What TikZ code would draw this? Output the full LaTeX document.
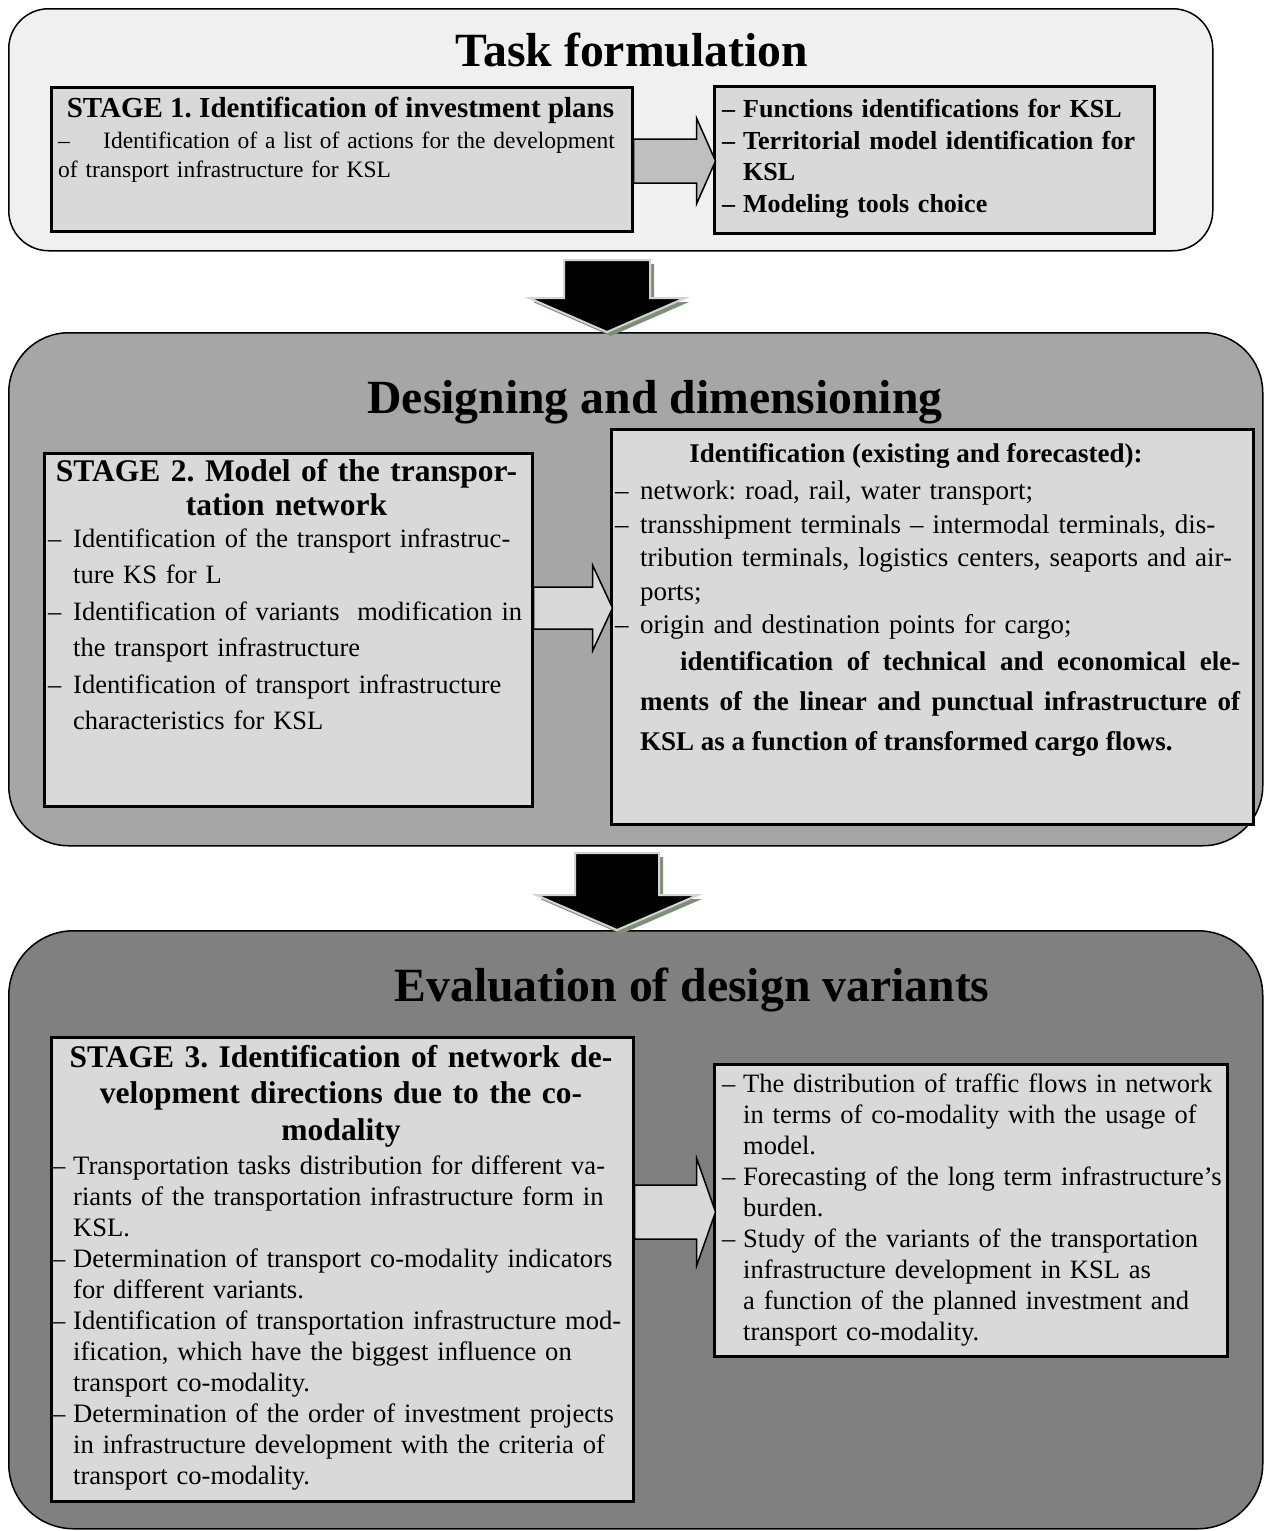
\documentclass[tikz,border=0pt]{standalone}
\usepackage{fontspec}
\setmainfont{Liberation Serif}
\usetikzlibrary{calc}
\definecolor{panelA}{HTML}{F0F0F0}
\definecolor{panelB}{HTML}{A6A6A6}
\definecolor{panelC}{HTML}{808080}
\definecolor{boxfill}{HTML}{D9D9D9}
\definecolor{arrowgray}{HTML}{BFBFBF}
\definecolor{shadowgreen}{HTML}{7F8F77}
\definecolor{rimgray}{HTML}{D4D4D4}
\newcommand\ditem[2][25pt]{\noindent\hangindent=#1\relax\hangafter=1\relax\makebox[#1][l]{–}#2\par}
\newcommand\nl{\hfil\break}
\tikzset{
  panel/.style={draw=black, line width=1.5pt, inner sep=0pt, anchor=north west},
  stagebox/.style={draw=black, line width=2.5pt, fill=boxfill, inner sep=0pt, anchor=north west},
  titletext/.style={anchor=base, inner sep=0pt, font=\bfseries\fontsize{47.7}{52}\selectfont},
  headtext/.style={anchor=north, inner sep=0pt, align=center},
  bodytext/.style={anchor=north west, inner sep=0pt, align=left},
  sidearrow/.style={draw=black, line width=1.5pt, line join=miter},
  downarrow/.style={fill=black, draw=rimgray, line width=2pt, line join=miter},
  downshadow/.style={fill=shadowgreen}
}
\begin{document}
\frenchspacing
\begin{tikzpicture}[x=1pt,y=-1pt]
\fill[white] (0,0) rectangle (1268,1531);
\useasboundingbox (0,0) rectangle (1268,1531);

% panels
\node[panel, fill=panelA, rounded corners=40pt, minimum width=1204, minimum height=242] (p1) at (8,8) {};
\node[panel, fill=panelB, rounded corners=60pt, minimum width=1254, minimum height=513] (p2) at (8,332) {};
\node[panel, fill=panelC, rounded corners=65pt, minimum width=1254, minimum height=598] (p3) at (8,930) {};

% titles
\node[titletext] (t1) at (632,66) {Task formulation};
\node[titletext] (t2) at (655,413) {Designing and dimensioning};
\node[titletext] (t3) at (692,1001) {Evaluation of design variants};

% boxes
\node[stagebox, minimum width=581, minimum height=144] (s1) at (50,86) {};
\node[stagebox, minimum width=440, minimum height=147] (r1) at (713,85) {};
\node[stagebox, minimum width=488, minimum height=353] (s2) at (43,452) {};
\node[stagebox, minimum width=642, minimum height=395] (r2) at (610,428) {};
\node[stagebox, minimum width=582, minimum height=464] (s3) at (50,1036) {};
\node[stagebox, minimum width=513, minimum height=292] (r3) at (713,1063) {};

% side arrows
\draw[sidearrow, fill=arrowgray, shift={(s1.east |- 0,161)}]
  (0,-22) -- (63,-22) -- (63,-43) -- (82,0) -- (63,43) -- (63,22) -- (0,22) -- cycle;
\draw[sidearrow, fill=boxfill, shift={(s2.east |- 0,608)}]
  (0,-21) -- (59,-21) -- (59,-43) -- (79,0) -- (59,43) -- (59,21) -- (0,21) -- cycle;
\draw[sidearrow, fill=boxfill, shift={(s3.east |- 0,1212)}]
  (0,-27) -- (62,-27) -- (62,-54) -- (81,0) -- (62,54) -- (62,27) -- (0,27) -- cycle;

% down arrows
\fill[downshadow, shift={(611,264)}]
  (-43,0) -- (43,0) -- (43,38) -- (78,38) -- (0,72) -- (-78,38) -- (-43,38) -- cycle;
\draw[downarrow, shift={(607,260)}]
  (-43,0) -- (43,0) -- (43,38) -- (78,38) -- (0,72) -- (-78,38) -- (-43,38) -- cycle;
\fill[downshadow, shift={(621,857)}]
  (-42,0) -- (42,0) -- (42,42) -- (81,42) -- (0,77) -- (-81,42) -- (-42,42) -- cycle;
\draw[downarrow, shift={(617,853)}]
  (-42,0) -- (42,0) -- (42,42) -- (81,42) -- (0,77) -- (-81,42) -- (-42,42) -- cycle;

% texts stage 1
\node[headtext, font=\bfseries\fontsize{29}{34}\selectfont] (s1h) at (340.5,97)
  {STAGE 1. Identification of investment plans};
\node[bodytext, text width=600, font=\fontsize{23.5}{29}\selectfont] (s1b) at (58,131.5)
  {\noindent\makebox[45pt][l]{–}Identification of a list of actions for the development\nl of transport infrastructure for KSL\par};
\node[bodytext, text width=460, font=\bfseries\fontsize{26}{31.5}\selectfont] (r1b) at (722,99)
  {\ditem[21pt]{Functions identifications for KSL}
   \ditem[21pt]{Territorial model identification for\nl KSL}
   \ditem[21pt]{Modeling tools choice}};

% texts stage 2
\node[headtext, text width=480, font=\bfseries\fontsize{31.5}{34}\selectfont] (s2h) at (286.5,459)
  {STAGE 2. Model of the transpor-\\tation network};
\node[bodytext, text width=600, font=\fontsize{26.5}{36.5}\selectfont] (s2b) at (48,528.5)
  {\ditem{Identification of the transport infrastruc-\nl ture KS for L}
   \ditem{Identification of variants\ \ modification in\nl the transport infrastructure}
   \ditem{Identification of transport infrastructure\nl characteristics for KSL}};
\node[headtext, font=\bfseries\fontsize{27}{33}\selectfont] (r2h) at (916,443.5)
  {Identification (existing and forecasted):};
\node[bodytext, text width=700, font=\fontsize{27}{33.5}\selectfont] (r2b) at (615,481)
  {\ditem{network: road, rail, water transport;}
   \ditem{transshipment terminals – intermodal terminals, dis-\nl tribution terminals, logistics centers, seaports and air-\nl ports;}
   \ditem{origin and destination points for cargo;}};
\node[anchor=north west, inner sep=0pt, text width=600, align=justify, font=\bfseries\fontsize{27}{40}\selectfont] (r2c) at (640,651)
  {\noindent\hspace*{40pt}identification of technical and economical ele-\linebreak ments of the linear and punctual infrastructure of\linebreak KSL as a function of transformed cargo flows.};

% texts stage 3
\node[headtext, text width=570, font=\bfseries\fontsize{31.5}{36.5}\selectfont] (s3h) at (341,1045)
  {STAGE 3. Identification of network de-\\velopment directions due to the co-\\modality};
\node[bodytext, text width=640, font=\fontsize{26.6}{31}\selectfont] (s3b) at (52,1156)
  {\ditem[21pt]{Transportation tasks distribution for different va-\nl riants of the transportation infrastructure form in\nl KSL.}
   \ditem[21pt]{Determination of transport co-modality indicators\nl for different variants.}
   \ditem[21pt]{Identification of transportation infrastructure mod-\nl ification, which have the biggest influence on\nl transport co-modality.}
   \ditem[21pt]{Determination of the order of investment projects\nl in infrastructure development with the criteria of\nl transport co-modality.}};
\node[bodytext, text width=560, font=\fontsize{26.5}{31}\selectfont] (r3b) at (722,1073.5)
  {\ditem[21pt]{The distribution of traffic flows in network\nl in terms of co-modality with the usage of\nl model.}
   \ditem[21pt]{Forecasting of the long term infrastructure’s\nl burden.}
   \ditem[21pt]{Study of the variants of the transportation\nl infrastructure development in KSL as\nl a function of the planned investment and\nl transport co-modality.}};
\end{tikzpicture}
\end{document}
